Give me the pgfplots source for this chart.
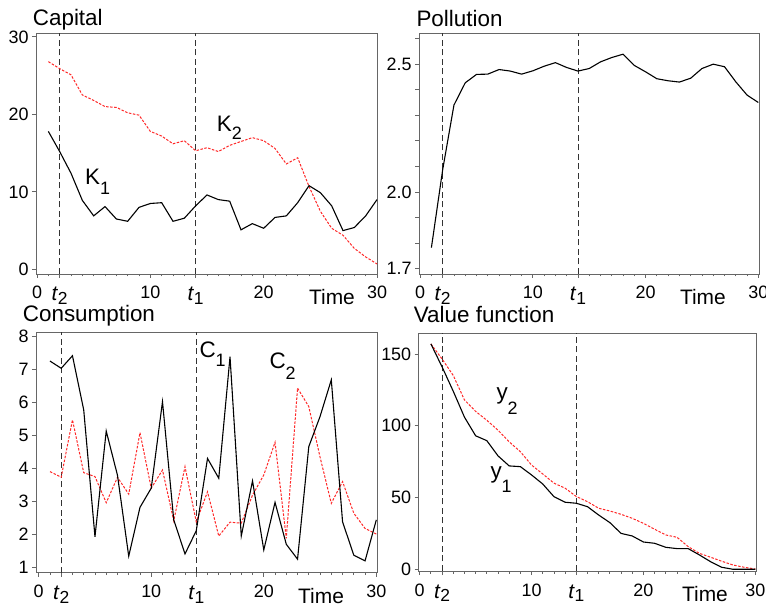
\documentclass[border=0pt]{standalone}
\usepackage{fontspec}
\setmainfont{Liberation Sans}
\usepackage{pgfplots}
\usepackage{pgfplotstable}
\pgfplotsset{compat=1.18}

\definecolor{framegray}{gray}{0.4}
\definecolor{serred}{RGB}{255,40,40}

% capital
\pgfplotstableread{
t  k1   k2
1  17.8 26.8
2  15.2 25.9
3  12.4 25.1
4  8.9  22.5
5  6.9  21.8
6  8.1  21.0
7  6.5  20.9
8  6.2  20.2
9  8.0  19.9
10 8.5  17.8
11 8.6  17.2
12 6.2  16.2
13 6.6  16.6
14 8.2  15.3
15 9.6  15.7
16 9.0  15.2
17 8.8  16.0
18 5.1  16.5
19 5.9  17.0
20 5.3  16.6
21 6.7  15.6
22 6.9  13.6
23 8.6  14.4
24 10.8 10.7
25 9.9  7.5
26 8.2  5.3
27 5.0  4.4
28 5.4  2.7
29 6.9  1.6
30 9.0  0.7
}\capital

% pollution
\pgfplotstableread{
t  p
1  1.782
2  2.087
3  2.340
4  2.427
5  2.460
6  2.461
7  2.479
8  2.473
9  2.461
10 2.474
11 2.492
12 2.506
13 2.487
14 2.473
15 2.483
16 2.509
17 2.526
18 2.539
19 2.495
20 2.470
21 2.443
22 2.435
23 2.430
24 2.445
25 2.483
26 2.500
27 2.490
28 2.431
29 2.379
30 2.350
}\pollution

% consumption
\pgfplotstableread{
t  c1   c2
1  7.26 3.91
2  7.04 3.74
3  7.42 5.48
4  5.78 3.88
5  1.94 3.76
6  5.14 2.97
7  3.80 3.74
8  1.35 3.23
9  2.83 5.09
10 3.41 3.41
11 6.03 3.96
12 2.45 2.42
13 1.42 4.06
14 2.12 2.39
15 4.31 3.30
16 3.71 1.96
17 7.39 2.38
18 1.96 2.35
19 3.63 3.20
20 1.54 3.81
21 2.98 4.80
22 1.71 1.89
23 1.26 6.44
24 4.67 5.88
25 5.58 4.35
26 6.69 2.95
27 2.39 3.61
28 1.38 2.65
29 1.21 2.19
30 2.45 2.02
}\consumption

% value function
\pgfplotstableread{
t  y1    y2
1  157.0 157.0
2  141.0 146.5
3  124.0 135.0
4  106.0 118.0
5  93.0  110.0
6  89.6  103.8
7  79.0  96.9
8  72.0  88.8
9  71.5  81.9
10 65.7  72.6
11 59.4  66.4
12 50.6  60.0
13 46.7  56.5
14 46.0  50.7
15 43.6  47.1
16 37.8  42.5
17 32.5  40.6
18 25.0  38.3
19 23.2  35.5
20 19.0  32.0
21 18.1  27.9
22 15.3  23.9
23 14.4  22.3
24 14.4  15.8
25 10.0  11.1
26 5.3   8.4
27 1.4   5.6
28 0.0   3.0
29 0.0   1.4
30 0.0   0.2
}\valuefn

\newcommand{\tl}[1]{\raisebox{-2bp}{\fontsize{21}{21}\selectfont\itshape t\kern0.5bp\raisebox{-3.5bp}{\upshape\fontsize{17.5}{17.5}\selectfont #1}}}
\newcommand{\sub}[2]{\raisebox{-#1bp}{\fontsize{18}{18}\selectfont #2}}

\pgfplotsset{
  panel/.style={
    scale only axis,
    axis line style={framegray, line width=0.8bp},
    xtick pos=bottom, ytick pos=left, tick align=outside,
    major tick length=4bp, minor tick length=2.5bp,
    every tick/.style={framegray, line width=0.8bp},
    tick label style={font=\fontsize{18}{18}\selectfont},
    xticklabel style={anchor=base, yshift=-21bp},
    xtick={0,2,10,14,20,30},
    xticklabels={0,\tl{2},10,\tl{1},20,30},
    minor xtick={1,...,30},
    xlabel={Time},
    xlabel style={font=\fontsize{21}{21}\selectfont, anchor=center, yshift=-23bp},
    clip=false,
  },
  blk/.style={black, line width=1.1bp},
  red/.style={serred, line width=1bp, dash pattern=on 2.5bp off 1.5bp},
  tline/.style={black!80, line width=0.8bp, dash pattern=on 6bp off 3.5bp},
}

\begin{document}
\begin{tikzpicture}
\path[use as bounding box] (0,0) rectangle (766bp,607bp);

% Capital
\begin{axis}[panel, at={(36bp,333bp)}, anchor=south west,
  width=341bp, height=241bp,
  xmin=-0.09, xmax=30, ymin=-0.6, ymax=30.5,
  ytick={0,10,20,30}, yticklabels={0,10,20,30},
  xlabel style={at={(axis description cs:0.868,0)}}]
  \addplot[tline] coordinates {(2,-0.6) (2,30.5)};
  \addplot[tline] coordinates {(14,-0.6) (14,30.5)};
  \addplot[red] table[x=t, y=k2] {\capital};
  \addplot[blk] table[x=t, y=k1] {\capital};
\end{axis}

% Pollution
\begin{axis}[panel, at={(419bp,333bp)}, anchor=south west,
  width=340bp, height=241bp,
  xmin=-0.1, xmax=30.06, ymin=1.679, ymax=2.622,
  ytick={1.7,1.8,1.9,2.0,2.1,2.2,2.3,2.4,2.5,2.6},
  yticklabels={1.7,,,2.0,,,,,2.5,},
  xlabel style={at={(axis description cs:0.835,0)}}]
  \addplot[tline] coordinates {(2,1.679) (2,2.622)};
  \addplot[tline] coordinates {(14,1.679) (14,2.622)};
  \addplot[blk] table[x=t, y=p] {\pollution};
\end{axis}

% Consumption
\begin{axis}[panel, at={(36bp,34.3bp)}, anchor=south west,
  width=341bp, height=240.4bp,
  xmin=-0.24, xmax=30.06, ymin=0.85, ymax=8.13,
  ytick={1,2,3,4,5,6,7,8}, yticklabels={1,2,3,4,5,6,7,8},
  xlabel style={at={(axis description cs:0.836,0)}}]
  \addplot[tline] coordinates {(2,0.85) (2,8.13)};
  \addplot[tline] coordinates {(14,0.85) (14,8.13)};
  \addplot[red] table[x=t, y=c2] {\consumption};
  \addplot[blk] table[x=t, y=c1] {\consumption};
\end{axis}

% Value function
\begin{axis}[panel, at={(418.7bp,36bp)}, anchor=south west,
  width=337.6bp, height=237.7bp,
  xmin=-0.09, xmax=30.09, ymin=-1.2, ymax=164.4,
  ytick={0,50,100,150}, yticklabels={0,50,100,150},
  xlabel style={at={(axis description cs:0.848,0)}}]
  \addplot[tline] coordinates {(2,-1.2) (2,164.4)};
  \addplot[tline] coordinates {(14,-1.2) (14,164.4)};
  \addplot[red] table[x=t, y=y2] {\valuefn};
  \addplot[blk] table[x=t, y=y1] {\valuefn};
\end{axis}

% titles
\begin{scope}[every node/.style={anchor=base west, inner sep=0pt, font=\fontsize{22.5}{22.5}\selectfont}]
  \node at (32.7bp,581bp) {Capital};
  \node at (416.3bp,580.3bp) {Pollution};
  \node at (22.7bp,285bp) {Consumption};
  \node at (413.7bp,284.3bp) {Value function};
  % series labels
  \node at (216.7bp,475.3bp) {K\sub{8}{2}};
  \node at (85bp,422bp) {K\sub{10}{1}};
  \node at (199.3bp,249.7bp) {C\sub{9}{1}};
  \node at (269.3bp,238.7bp) {C\sub{11}{2}};
  \node at (496.3bp,207bp) {y\sub{15}{2}};
  \node at (490.3bp,128.6bp) {y\sub{14}{1}};
\end{scope}
\end{tikzpicture}
\end{document}
